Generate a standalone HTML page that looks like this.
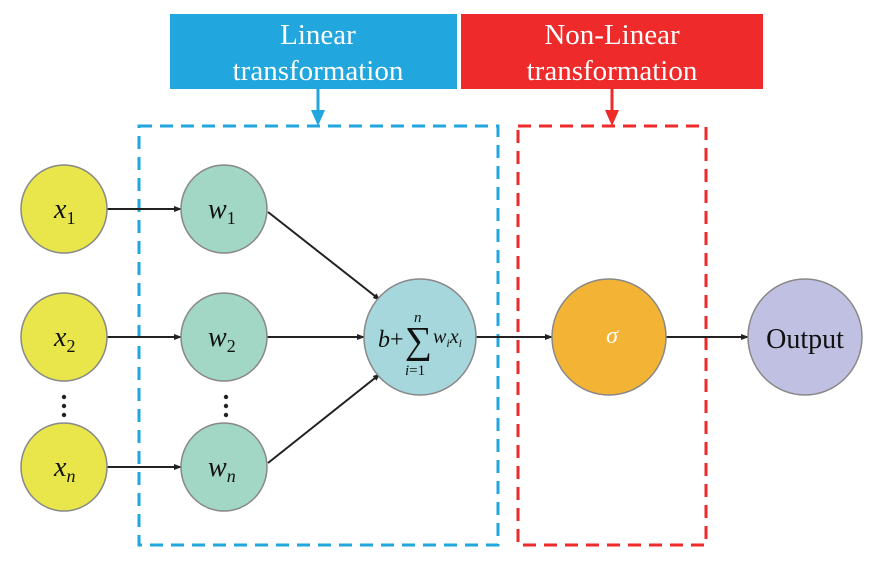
<!DOCTYPE html>
<html><head><style>body{margin:0;background:#fff}</style></head><body>
<svg width="874" height="561" viewBox="0 0 874 561" xmlns="http://www.w3.org/2000/svg" font-family="Liberation Serif, serif">
<defs><marker id="a" markerWidth="8" markerHeight="8" refX="7" refY="4" orient="auto" markerUnits="userSpaceOnUse"><path d="M0,1 L8,4 L0,7 z" fill="#222"/></marker></defs>
<rect x="170" y="14" width="287" height="75" fill="#21a6de"/>
<rect x="461" y="14" width="302" height="75" fill="#ee2a2a"/>
<text x="318" y="44" font-size="29" fill="#fff" text-anchor="middle">Linear</text>
<text x="318" y="80" font-size="29" fill="#fff" text-anchor="middle">transformation</text>
<text x="612" y="44" font-size="29" fill="#fff" text-anchor="middle">Non-Linear</text>
<text x="612" y="80" font-size="29" fill="#fff" text-anchor="middle">transformation</text>
<line x1="318" y1="89" x2="318" y2="114" stroke="#21a6de" stroke-width="3"/>
<path d="M311,110 L325,110 L318,126 z" fill="#21a6de"/>
<line x1="612" y1="89" x2="612" y2="114" stroke="#ee2a2a" stroke-width="3"/>
<path d="M605,110 L619,110 L612,126 z" fill="#ee2a2a"/>
<rect x="139" y="126" width="359" height="419" fill="none" stroke="#21a6de" stroke-width="3" stroke-dasharray="13,8"/>
<rect x="518" y="126" width="188" height="419" fill="none" stroke="#ee2a2a" stroke-width="3" stroke-dasharray="13,8"/>
<g stroke="#222" stroke-width="2" marker-end="url(#a)">
<line x1="107" y1="209" x2="181" y2="209"/>
<line x1="107" y1="337" x2="181" y2="337"/>
<line x1="107" y1="467" x2="181" y2="467"/>
<line x1="267" y1="337" x2="364" y2="337"/>
<line x1="268" y1="212" x2="380" y2="300"/>
<line x1="268" y1="463" x2="380" y2="374"/>
<line x1="476" y1="337" x2="552" y2="337"/>
<line x1="666" y1="337" x2="748" y2="337"/>
</g>
<g stroke="#888" stroke-width="1.5">
<ellipse cx="64" cy="209" rx="43" ry="44" fill="#e8e64a"/>
<ellipse cx="64" cy="337" rx="43" ry="44" fill="#e8e64a"/>
<ellipse cx="64" cy="467" rx="43" ry="44" fill="#e8e64a"/>
<ellipse cx="224" cy="209" rx="43" ry="44" fill="#a2d6c5"/>
<ellipse cx="224" cy="337" rx="43" ry="44" fill="#a2d6c5"/>
<ellipse cx="224" cy="467" rx="43" ry="44" fill="#a2d6c5"/>
<ellipse cx="420" cy="337" rx="56" ry="58" fill="#a6d7dc"/>
<ellipse cx="609" cy="337" rx="57" ry="58" fill="#f3b435"/>
<ellipse cx="805" cy="337" rx="57" ry="58" fill="#c0c1e2"/>
</g>
<g font-size="28" font-style="italic" fill="#111">
<text x="54" y="218">x<tspan font-size="18" font-style="normal" dy="6">1</tspan></text>
<text x="54" y="346">x<tspan font-size="18" font-style="normal" dy="6">2</tspan></text>
<text x="54" y="476">x<tspan font-size="18" dy="6">n</tspan></text>
<text x="208" y="218">w<tspan font-size="18" font-style="normal" dy="6">1</tspan></text>
<text x="208" y="346">w<tspan font-size="18" font-style="normal" dy="6">2</tspan></text>
<text x="208" y="476">w<tspan font-size="18" dy="6">n</tspan></text>
<text x="612" y="343" font-size="24" fill="#fff" text-anchor="middle">σ</text>
</g>
<text x="378" y="347" font-size="24" font-style="italic" fill="#111">b<tspan font-style="normal">+</tspan></text>
<text x="405" y="353" font-size="38" fill="#111">∑</text>
<text x="414" y="322" font-size="15" font-style="italic" fill="#111">n</text>
<text x="405" y="375" font-size="15" font-style="italic" fill="#111">i<tspan font-style="normal">=1</tspan></text>
<text x="433" y="343" font-size="20" font-style="italic" fill="#111">w<tspan font-size="12" dy="4">i</tspan><tspan dy="-4">x</tspan><tspan font-size="12" dy="4">i</tspan></text>
<text x="805" y="348" font-size="28" fill="#111" text-anchor="middle">Output</text>
<g fill="#222"><circle cx="64" cy="397" r="2.2"/><circle cx="64" cy="406" r="2.2"/><circle cx="64" cy="415" r="2.2"/>
<circle cx="226" cy="397" r="2.2"/><circle cx="226" cy="406" r="2.2"/><circle cx="226" cy="415" r="2.2"/></g>
</svg>
</body></html>
